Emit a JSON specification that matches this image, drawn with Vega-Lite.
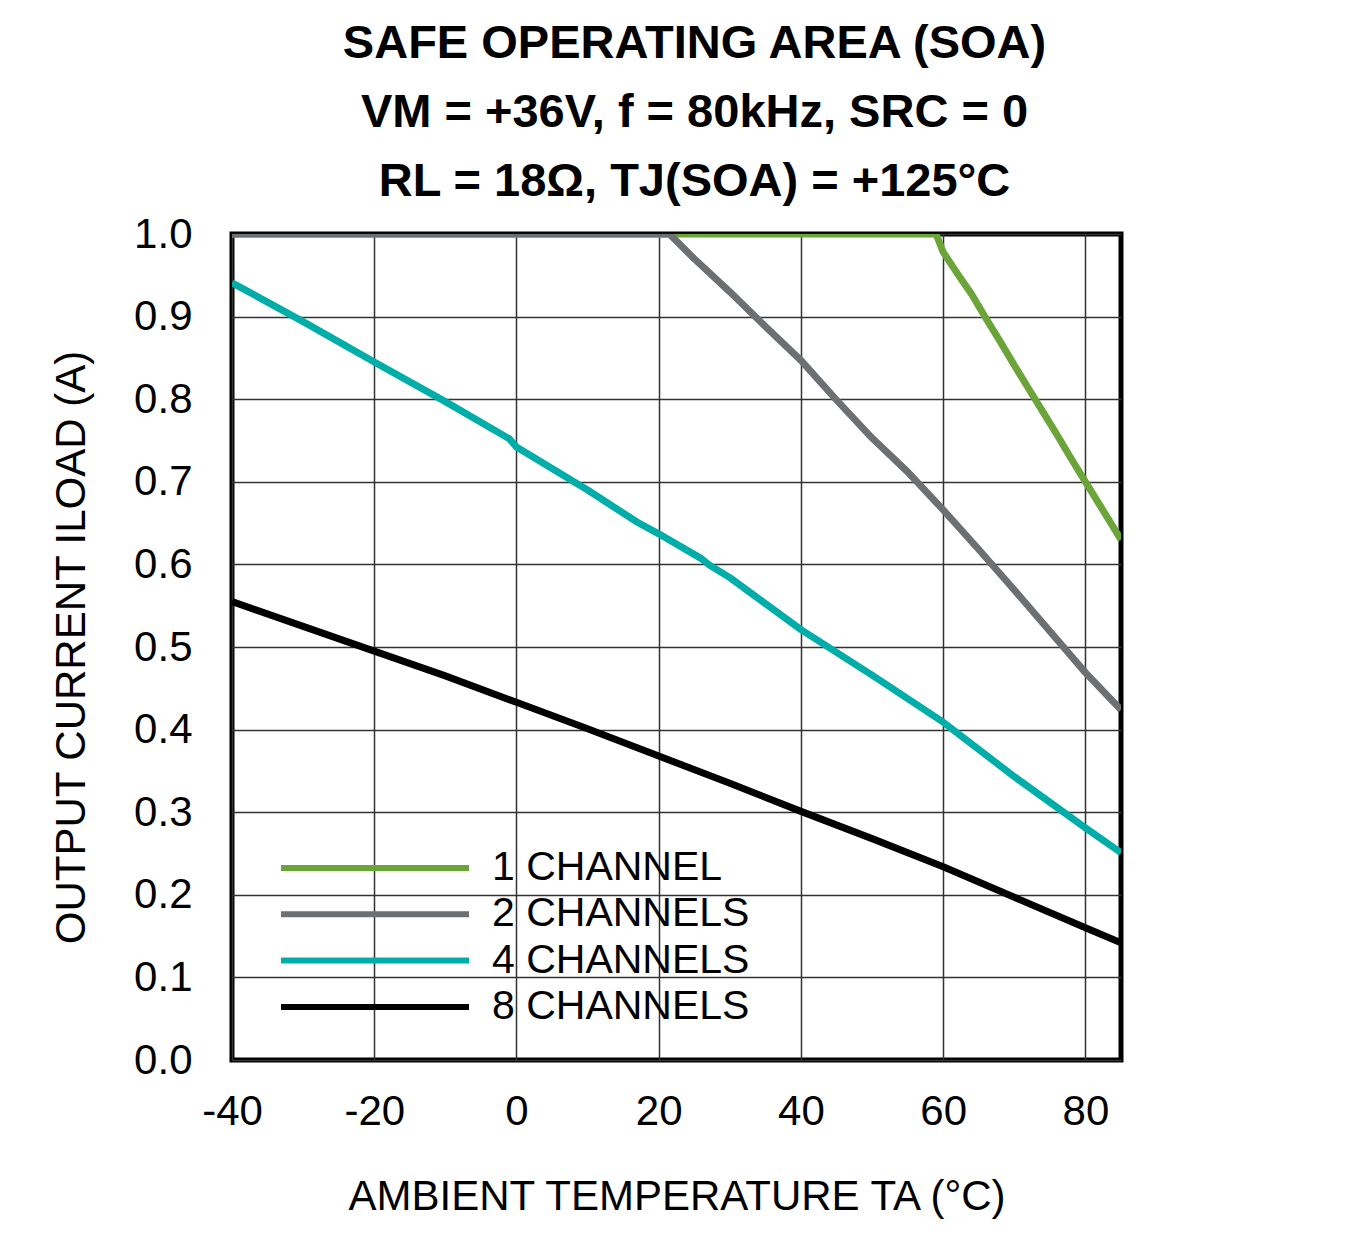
{
  "$schema": "https://vega.github.io/schema/vega-lite/v6.json",
  "width": 889,
  "height": 826,
  "autosize": "none",
  "padding": {"left": 232, "top": 234, "right": 230, "bottom": 194},
  "background": "white",
  "title": {
    "text": ["SAFE OPERATING AREA (SOA)", "VM = +36V, f = 80kHz, SRC = 0", "RL = 18Ω, TJ(SOA) = +125°C"],
    "font": "Liberation Sans, sans-serif",
    "fontSize": 47,
    "fontWeight": "bold",
    "lineHeight": 69,
    "anchor": "middle",
    "dx": 18,
    "offset": 7,
    "color": "black"
  },
  "config": {
    "view": {"stroke": "black", "strokeWidth": 5},
    "font": "Liberation Sans, sans-serif",
    "axis": {
      "grid": true,
      "gridColor": "#333333",
      "gridWidth": 1.5,
      "gridOpacity": 1,
      "domain": false,
      "ticks": false,
      "labelFontSize": 42,
      "labelColor": "black",
      "labelFlush": false,
      "titleFontSize": 42,
      "titleFontWeight": "normal",
      "titleColor": "black"
    },
    "legend": {
      "orient": "none",
      "legendX": 46,
      "legendY": 612,
      "padding": 0,
      "symbolType": "stroke",
      "symbolSize": 35344,
      "symbolStrokeWidth": 6,
      "clipHeight": 44,
      "rowPadding": 2.3,
      "labelFontSize": 41,
      "labelColor": "black",
      "labelOffset": 20,
      "labelLimit": 400,
      "title": null
    }
  },
  "data": {
    "values": [
      {"T": -40, "I": 1.0, "series": "1 CHANNEL"},
      {"T": 59, "I": 1.0, "series": "1 CHANNEL"},
      {"T": 60, "I": 0.978, "series": "1 CHANNEL"},
      {"T": 62, "I": 0.952, "series": "1 CHANNEL"},
      {"T": 64, "I": 0.927, "series": "1 CHANNEL"},
      {"T": 66, "I": 0.898, "series": "1 CHANNEL"},
      {"T": 68, "I": 0.87, "series": "1 CHANNEL"},
      {"T": 70, "I": 0.841, "series": "1 CHANNEL"},
      {"T": 72, "I": 0.813, "series": "1 CHANNEL"},
      {"T": 74, "I": 0.785, "series": "1 CHANNEL"},
      {"T": 76, "I": 0.757, "series": "1 CHANNEL"},
      {"T": 78, "I": 0.728, "series": "1 CHANNEL"},
      {"T": 80, "I": 0.7, "series": "1 CHANNEL"},
      {"T": 82, "I": 0.672, "series": "1 CHANNEL"},
      {"T": 85, "I": 0.63, "series": "1 CHANNEL"},
      {"T": -40, "I": 1.0, "series": "2 CHANNELS"},
      {"T": 21.5, "I": 1.0, "series": "2 CHANNELS"},
      {"T": 25, "I": 0.97, "series": "2 CHANNELS"},
      {"T": 30, "I": 0.93, "series": "2 CHANNELS"},
      {"T": 35, "I": 0.888, "series": "2 CHANNELS"},
      {"T": 40, "I": 0.847, "series": "2 CHANNELS"},
      {"T": 45, "I": 0.799, "series": "2 CHANNELS"},
      {"T": 50, "I": 0.753, "series": "2 CHANNELS"},
      {"T": 55, "I": 0.712, "series": "2 CHANNELS"},
      {"T": 60, "I": 0.666, "series": "2 CHANNELS"},
      {"T": 65, "I": 0.618, "series": "2 CHANNELS"},
      {"T": 70, "I": 0.569, "series": "2 CHANNELS"},
      {"T": 75, "I": 0.519, "series": "2 CHANNELS"},
      {"T": 80, "I": 0.469, "series": "2 CHANNELS"},
      {"T": 85, "I": 0.424, "series": "2 CHANNELS"},
      {"T": -40, "I": 0.941, "series": "4 CHANNELS"},
      {"T": -30, "I": 0.894, "series": "4 CHANNELS"},
      {"T": -20, "I": 0.845, "series": "4 CHANNELS"},
      {"T": -10, "I": 0.797, "series": "4 CHANNELS"},
      {"T": -1, "I": 0.752, "series": "4 CHANNELS"},
      {"T": 0, "I": 0.742, "series": "4 CHANNELS"},
      {"T": 10, "I": 0.69, "series": "4 CHANNELS"},
      {"T": 17, "I": 0.651, "series": "4 CHANNELS"},
      {"T": 20, "I": 0.637, "series": "4 CHANNELS"},
      {"T": 26, "I": 0.607, "series": "4 CHANNELS"},
      {"T": 27, "I": 0.6, "series": "4 CHANNELS"},
      {"T": 30, "I": 0.584, "series": "4 CHANNELS"},
      {"T": 40, "I": 0.521, "series": "4 CHANNELS"},
      {"T": 50, "I": 0.466, "series": "4 CHANNELS"},
      {"T": 60, "I": 0.409, "series": "4 CHANNELS"},
      {"T": 70, "I": 0.343, "series": "4 CHANNELS"},
      {"T": 80, "I": 0.281, "series": "4 CHANNELS"},
      {"T": 85, "I": 0.251, "series": "4 CHANNELS"},
      {"T": -40, "I": 0.555, "series": "8 CHANNELS"},
      {"T": -30, "I": 0.525, "series": "8 CHANNELS"},
      {"T": -20, "I": 0.495, "series": "8 CHANNELS"},
      {"T": -10, "I": 0.465, "series": "8 CHANNELS"},
      {"T": 0, "I": 0.433, "series": "8 CHANNELS"},
      {"T": 10, "I": 0.401, "series": "8 CHANNELS"},
      {"T": 20, "I": 0.368, "series": "8 CHANNELS"},
      {"T": 30, "I": 0.335, "series": "8 CHANNELS"},
      {"T": 40, "I": 0.301, "series": "8 CHANNELS"},
      {"T": 50, "I": 0.268, "series": "8 CHANNELS"},
      {"T": 60, "I": 0.234, "series": "8 CHANNELS"},
      {"T": 70, "I": 0.197, "series": "8 CHANNELS"},
      {"T": 80, "I": 0.16, "series": "8 CHANNELS"},
      {"T": 85, "I": 0.142, "series": "8 CHANNELS"}
    ]
  },
  "mark": {"type": "line", "strokeWidth": 7, "clip": true, "strokeJoin": "round"},
  "encoding": {
    "x": {
      "field": "T",
      "type": "quantitative",
      "scale": {"domain": [-40, 85], "nice": false, "zero": false},
      "axis": {
        "values": [-40, -20, 0, 20, 40, 60, 80],
        "labelExpr": "replace(datum.label, '−', '-')",
        "labelPadding": 31,
        "title": "AMBIENT TEMPERATURE TA (°C)",
        "titlePadding": 44
      }
    },
    "y": {
      "field": "I",
      "type": "quantitative",
      "scale": {"domain": [0, 1], "nice": false},
      "axis": {
        "values": [0, 0.1, 0.2, 0.3, 0.4, 0.5, 0.6, 0.7, 0.8, 0.9, 1.0],
        "format": ".1f",
        "labelPadding": 40,
        "title": "OUTPUT CURRENT ILOAD (A)",
        "titlePadding": 40
      }
    },
    "color": {
      "field": "series",
      "type": "nominal",
      "scale": {
        "domain": ["1 CHANNEL", "2 CHANNELS", "4 CHANNELS", "8 CHANNELS"],
        "range": ["#6ba539", "#6d7072", "#00ada9", "#000000"]
      }
    },
    "order": {"field": "T", "type": "quantitative"}
  }
}
